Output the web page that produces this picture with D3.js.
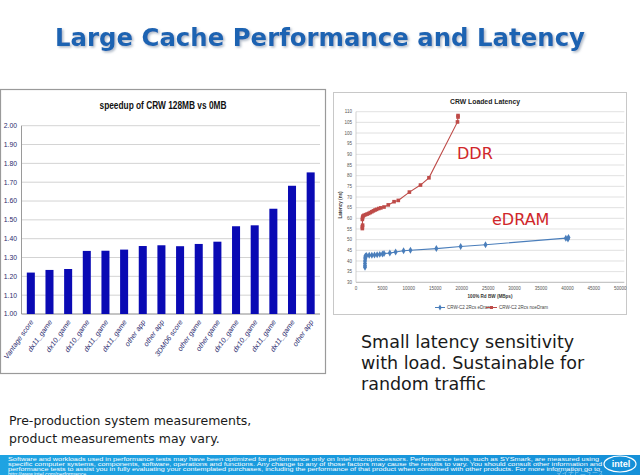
<!DOCTYPE html>
<html><head><meta charset="utf-8">
<script src="https://cdn.jsdelivr.net/npm/d3@7"></script>
<style>
html,body{margin:0;padding:0;background:#fff;}
svg{display:block;}
</style></head>
<body>
<svg id="c" width="640" height="475"></svg>
<script>
// ---------- data ----------
const barCategories = ["Vantage score","dx11_game","dx10_game","dx10_game","dx11_game","dx11_game","other app","other app","3DM06 score","other game","other game","dx10_game","dx10_game","dx11_game","dx11_game","other app"];
const barValues = [1.22,1.234,1.239,1.335,1.336,1.342,1.361,1.365,1.360,1.372,1.384,1.466,1.471,1.559,1.681,1.752];
const barTicks = [1.00,1.10,1.20,1.30,1.40,1.50,1.60,1.70,1.80,1.90,2.00];

const ddrBW = [1200,1200,1250,1200,1250,1300,1500,1800,2100,2400,2700,3000,3300,3600,3900,4300,4700,5300,6100,7200,8000,10100,12200,13800,19200,19300,19300];
const ddrLat = [55.2,56.0,56.8,59.5,60.3,61.0,61.4,61.7,62.0,62.3,62.7,63.1,63.5,63.9,64.2,64.6,64.9,65.3,66.3,67.8,68.4,72.3,75.6,79.0,105.2,107.5,108.2];
const edramBW = [1700,1700,1700,1700,1750,1750,1800,2000,2500,3000,3500,4000,4500,5000,5300,6400,7500,9000,10300,15200,19800,24500,39700,40100,40200];
const edramLat = [37.0,37.8,38.8,40.0,41.0,41.8,42.4,42.6,42.7,42.7,42.8,42.9,43.1,43.3,43.5,43.7,44.2,44.8,45.0,45.8,46.8,47.6,50.7,50.3,51.0];
const latTicks = [30,35,40,45,50,55,60,65,70,75,80,85,90,95,100,105,110];
const bwTicks = [0,5000,10000,15000,20000,25000,30000,35000,40000,45000,50000];
const seriesNames = ["CRW-C2 2Rcs eDram","CRW-C2 2Rcs noeDram"];

const svg = d3.select("#c");
const defs = svg.append("defs");
const sh = defs.append("filter").attr("id","sh").attr("x","-5%").attr("y","-30%").attr("width","110%").attr("height","160%");
sh.append("feDropShadow").attr("dx",1.5).attr("dy",1.5).attr("stdDeviation",0.8).attr("flood-color","#8a9aae").attr("flood-opacity",0.7);

// ---------- slide title ----------
svg.append("text").attr("x",320).attr("y",46).attr("text-anchor","middle")
  .attr("font-family","DejaVu Sans").attr("font-weight","bold").attr("font-size",24.4)
  .attr("fill","#1e64b2").attr("filter","url(#sh)").text("Large Cache Performance and Latency");

// ---------- left chart ----------
const L = svg.append("g");
L.append("rect").attr("x",0.5).attr("y",89.5).attr("width",325).attr("height",284)
  .attr("fill","#fff").attr("stroke","#9a9a9a").attr("stroke-width",1.2);
L.append("text").attr("x",163).attr("y",109).attr("text-anchor","middle")
  .attr("font-family","Liberation Sans").attr("font-weight","bold").attr("font-size",11)
  .attr("textLength",127).attr("lengthAdjust","spacingAndGlyphs")
  .attr("fill","#111").text("speedup of CRW 128MB vs 0MB");

const xb = d3.scaleBand().domain(d3.range(barValues.length)).range([21.5,320]).paddingInner(0.57).paddingOuter(0.285);
const yb = d3.scaleLinear().domain([1.0,2.0]).range([314,125.7]);

L.append("g").selectAll("line").data(barTicks.slice(1)).join("line")
  .attr("x1",21.5).attr("x2",320).attr("y1",d=>yb(d)).attr("y2",d=>yb(d))
  .attr("stroke","#c8c8c8").attr("stroke-width",0.8);
L.append("line").attr("x1",21.5).attr("x2",21.5).attr("y1",yb(2)).attr("y2",yb(1)).attr("stroke","#9a9a9a");
L.append("line").attr("x1",21.5).attr("x2",320).attr("y1",yb(1)).attr("y2",yb(1)).attr("stroke","#8a8a8a");

L.append("g").selectAll("text").data(barTicks).join("text")
  .attr("x",17).attr("y",d=>yb(d)).attr("dy","0.35em").attr("text-anchor","end")
  .attr("font-family","Liberation Sans Narrow, Liberation Sans").attr("font-size",6.8)
  .attr("fill","#2a2a6e").text(d=>d3.format(".2f")(d));

L.append("g").selectAll("rect").data(barValues).join("rect")
  .attr("x",(d,i)=>xb(i)).attr("width",xb.bandwidth())
  .attr("y",d=>yb(d)).attr("height",d=>yb(1)-yb(d)).attr("fill","#0a0ab4");

L.append("g").selectAll("text").data(barCategories).join("text")
  .attr("transform",(d,i)=>`translate(${xb(i)+xb.bandwidth()/2+3},${322}) rotate(-55)`)
  .attr("text-anchor","end").attr("font-family","Liberation Sans").attr("font-style","italic")
  .attr("font-size",7.2).attr("fill","#2a2a6e").text(d=>d);

// ---------- right chart ----------
const R = svg.append("g");
R.append("rect").attr("x",333.5).attr("y",92.5).attr("width",293).attr("height",222)
  .attr("fill","#fff").attr("stroke","#c8c8c8").attr("stroke-width",1);
R.append("text").attr("x",485).attr("y",104).attr("text-anchor","middle")
  .attr("font-family","Liberation Sans").attr("font-weight","bold").attr("font-size",7.5)
  .attr("textLength",70).attr("lengthAdjust","spacingAndGlyphs")
  .attr("fill","#222").text("CRW Loaded Latency");

const xr = d3.scaleLinear().domain([0,50000]).range([356,620.3]);
const yr = d3.scaleLinear().domain([30,110]).range([282.3,111.7]);

R.append("g").selectAll("line").data(latTicks).join("line")
  .attr("x1",xr(0)).attr("x2",xr(50000)+4).attr("y1",d=>yr(d)).attr("y2",d=>yr(d))
  .attr("stroke",(d)=>d===30?"#9a9a9a":"#d4d4d4").attr("stroke-width",0.7);
R.append("line").attr("x1",xr(0)).attr("x2",xr(0)).attr("y1",yr(110)).attr("y2",yr(30)).attr("stroke","#bdbdbd").attr("stroke-width",0.7);

R.append("g").selectAll("text").data(latTicks).join("text")
  .attr("x",352).attr("y",d=>yr(d)).attr("dy","0.35em").attr("text-anchor","end")
  .attr("font-family","Liberation Sans").attr("font-size",4.5).attr("fill","#555").text(d=>d);
R.append("g").selectAll("text").data(bwTicks).join("text")
  .attr("x",d=>xr(d)).attr("y",290).attr("text-anchor","middle")
  .attr("font-family","Liberation Sans").attr("font-size",4.5).attr("fill","#555").text(d=>d);
R.append("text").attr("x",490).attr("y",297.5).attr("text-anchor","middle")
  .attr("font-family","Liberation Sans").attr("font-weight","bold").attr("font-size",4.6)
  .attr("fill","#333").text("100% Rd BW (MBps)");
R.append("text").attr("transform","translate(342,205) rotate(-90)").attr("text-anchor","middle")
  .attr("font-family","Liberation Sans").attr("font-weight","bold").attr("font-size",4.6)
  .attr("fill","#333").text("Latency (ns)");

const blue = "#4a7ebb", red = "#be4b48";
const ddr = ddrBW.map((b,i)=>[b,ddrLat[i]]);
const edr = edramBW.map((b,i)=>[b,edramLat[i]]);
const line = d3.line().x(d=>xr(d[0])).y(d=>yr(d[1]));
R.append("path").datum(edr).attr("d",line).attr("fill","none").attr("stroke",blue).attr("stroke-width",1.1);
R.append("path").datum(ddr).attr("d",line).attr("fill","none").attr("stroke",red).attr("stroke-width",1.1);
R.append("g").selectAll("path").data(edr).join("path")
  .attr("d",d3.symbol(d3.symbolDiamond,14)).attr("transform",d=>`translate(${xr(d[0])},${yr(d[1])})`).attr("fill",blue);
R.append("g").selectAll("rect").data(ddr).join("rect")
  .attr("x",d=>xr(d[0])-1.8).attr("y",d=>yr(d[1])-1.8).attr("width",3.6).attr("height",3.6).attr("fill",red);

// legend
const lg = R.append("g").attr("font-family","Liberation Sans").attr("font-size",4.5).attr("fill","#444");
lg.append("line").attr("x1",435).attr("x2",445).attr("y1",307.5).attr("y2",307.5).attr("stroke",blue).attr("stroke-width",1);
lg.append("path").attr("d",d3.symbol(d3.symbolDiamond,10)).attr("transform","translate(440,307.5)").attr("fill",blue);
lg.append("text").attr("x",447).attr("y",309).text(seriesNames[0]);
lg.append("line").attr("x1",486).attr("x2",497).attr("y1",307.5).attr("y2",307.5).attr("stroke",red).attr("stroke-width",1);
lg.append("rect").attr("x",490).attr("y",306).attr("width",3).attr("height",3).attr("fill",red);
lg.append("text").attr("x",499).attr("y",309).text(seriesNames[1]);

// annotations
R.append("text").attr("x",457).attr("y",159).attr("font-family","DejaVu Sans").attr("font-size",16)
  .attr("fill","#d0262a").text("DDR");
R.append("text").attr("x",492).attr("y",225).attr("font-family","DejaVu Sans").attr("font-size",16)
  .attr("fill","#d0262a").text("eDRAM");

// ---------- text blocks ----------
const note = svg.append("text").attr("font-family","DejaVu Sans").attr("font-size",17.5).attr("fill","#1a1a1a");
["Small latency sensitivity","with load. Sustainable for","random traffic"].forEach((t,i)=>
  note.append("tspan").attr("x",361).attr("y",348+i*21).text(t));
const pre = svg.append("text").attr("font-family","DejaVu Sans").attr("font-size",12.5).attr("fill","#1a1a1a");
["Pre-production system measurements,","product measurements may vary."].forEach((t,i)=>
  pre.append("tspan").attr("x",9).attr("y",425+i*18).text(t));

// ---------- footer banner ----------
const gr = defs.append("linearGradient").attr("id","bn").attr("x1","0").attr("x2","1");
gr.append("stop").attr("offset","0").attr("stop-color","#1ea3e2");
gr.append("stop").attr("offset","1").attr("stop-color","#1590d8");
svg.append("rect").attr("x",0).attr("y",455).attr("width",640).attr("height",20).attr("fill","url(#bn)");
const disc = ["Software and workloads used in performance tests may have been optimized for performance only on Intel microprocessors.  Performance tests, such as SYSmark, are measured using",
 "specific computer systems, components, software, operations and functions.  Any change to any of those factors may cause the results to vary.  You should consult other information and",
 "performance tests to assist you in fully evaluating your contemplated purchases, including the performance of that product when combined with other products. For more information go to",
 "http://www.intel.com/performance."];
const dt = svg.append("text").attr("font-family","Liberation Sans").attr("font-size",5.3).attr("fill","#fff");
disc.forEach((t,i)=>{ const s = dt.append("tspan").attr("x",8).attr("y",460.5+i*5).text(t); if(i<3) s.attr("textLength",i===0?591:(i===1?594:592)).attr("lengthAdjust","spacingAndGlyphs"); });
svg.append("ellipse").attr("cx",620).attr("cy",464).attr("rx",16).attr("ry",8).attr("fill","none").attr("stroke","#fff").attr("stroke-width",1.2);
svg.append("text").attr("x",621).attr("y",467).attr("text-anchor","middle").attr("font-family","Liberation Sans")
  .attr("font-size",9).attr("font-weight","bold").attr("fill","#fff").text("intel");
svg.append("text").attr("x",556).attr("y",474.5).attr("font-family","Noto Sans CJK JP").attr("font-size",6)
  .attr("fill","#fff").attr("opacity",0.5).text("マイナビニュース");
</script>
</body></html>
